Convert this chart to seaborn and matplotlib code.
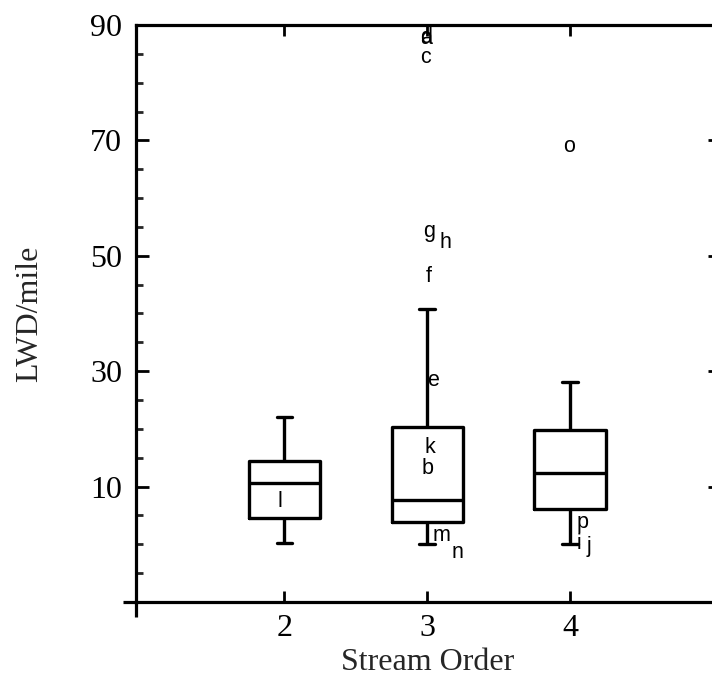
import numpy as np
import pandas as pd
import matplotlib
matplotlib.use("Agg")
import matplotlib.pyplot as plt
from matplotlib.ticker import MultipleLocator
import seaborn as sns

# ---- data ----
orders = [2, 3, 4]
whisker_low = [0.3, 0.0, 0.0]
q1 = [4.6, 3.8, 6.1]
median = [10.7, 7.7, 12.4]
q3 = [14.5, 20.4, 19.8]
whisker_high = [22.0, 40.7, 28.2]

# labelled stream observations (letter, stream order position, LWD/mile)
label_text = ["a", "d", "c", "g", "h", "f", "e", "k", "b", "m", "n", "l", "o", "p", "i", "j"]
label_x = [2.99, 2.99, 2.99, 3.01, 3.13, 3.01, 3.04, 3.02, 3.00, 3.10, 3.21, 1.97, 3.99, 4.09, 4.06, 4.13]
label_y = [87.7, 87.9, 84.4, 54.2, 52.3, 46.4, 28.4, 16.8, 13.2, 1.6, -1.5, 7.4, 69.0, 3.7, 0.1, -0.4]

xticks = [2, 3, 4]
yticks = [10, 30, 50, 70, 90]

# build a table whose quartiles/whiskers reproduce the box summaries
rows = []
for o, a, b, c, d, e in zip(orders, whisker_low, q1, median, q3, whisker_high):
    for v in (a, b, c, d, e):
        rows.append({"Stream Order": o, "LWD/mile": v})
df = pd.DataFrame(rows)

sns.set_style("white")
plt.rcParams["font.family"] = ["Liberation Serif", "DejaVu Serif"]

W, H = 712, 687
fig = plt.figure(figsize=(W / 100, H / 100), dpi=100)
left_px, right_px, top_px, bottom_px = 136, 720, 25, 602
ax = fig.add_axes([left_px / W, 1 - bottom_px / H,
                   (right_px - left_px) / W, (bottom_px - top_px) / H])

sns.boxplot(data=df, x="Stream Order", y="LWD/mile", native_scale=True,
            width=0.5, fill=False, color="black", linecolor="black",
            linewidth=2.4, showfliers=False, whis=1.5, ax=ax,
            capwidths=0.11)

for t, x, y in zip(label_text, label_x, label_y):
    ax.text(x, y, t, ha="center", va="center", fontsize=15.5,
            family=["Liberation Sans", "DejaVu Sans"], color="black",
            clip_on=False)

ax.set_xlim(0.96, 5.05)
ax.set_ylim(-10, 90)
ax.set_xticks(xticks)
ax.set_xticklabels([str(t) for t in xticks])
ax.set_yticks(yticks)
ax.set_yticklabels([str(t) for t in yticks])
ax.yaxis.set_minor_locator(MultipleLocator(5))

for s in ax.spines.values():
    s.set_visible(True)
    s.set_color("black")
    s.set_linewidth(2.3)

ax.tick_params(axis="y", which="major", direction="in", length=9, width=2,
               left=True, right=True, labelsize=23, pad=10, colors="black")
ax.tick_params(axis="y", which="minor", direction="in", length=5, width=2,
               left=True, right=False)
ax.tick_params(axis="x", which="major", direction="in", length=8, width=2,
               top=True, bottom=True, labelsize=23, pad=9, colors="black")

# corner cross where the axes meet
ax.plot([-0.022, 0], [0, 0], transform=ax.transAxes, color="black",
        lw=2.3, clip_on=False, solid_capstyle="butt")
ax.plot([0, 0], [-0.026, 0], transform=ax.transAxes, color="black",
        lw=2.3, clip_on=False, solid_capstyle="butt")

ax.set_xlabel("Stream Order", fontsize=23, labelpad=3)
ax.set_ylabel("LWD/mile", fontsize=23, labelpad=33)
ax.grid(False)

fig.savefig("out.png", dpi=100, facecolor="white")
